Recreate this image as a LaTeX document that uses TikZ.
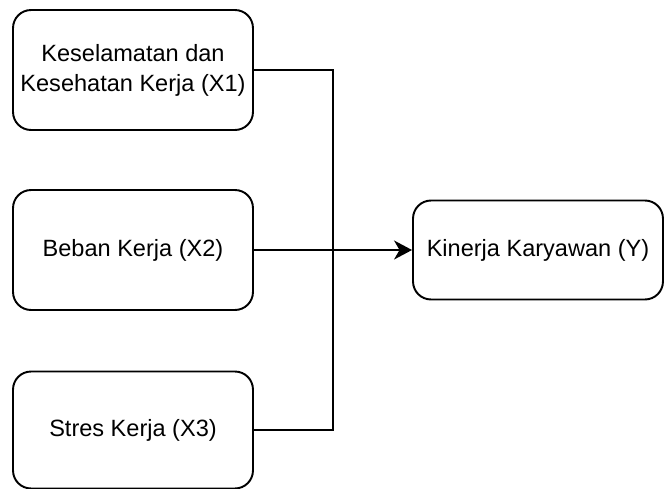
\documentclass[tikz,border=0pt]{standalone}
\usepackage{fontspec}
\setmainfont{Liberation Sans}
\usetikzlibrary{positioning, arrows.meta}

\begin{document}
\begin{tikzpicture}[
    % GLOBAL CFG
    x=0.02cm, y=-0.02cm,
    font=\fontsize{13.4}{17}\selectfont,
    >={Stealth[length=3.6mm, width=3.8mm, inset=1.1mm]},
    % Styles
    varbox/.style={% For the variable boxes
        rectangle,
        rounded corners=3.6mm,
        draw,
        line width=1.1pt,
        align=center,
        inner sep=0pt,
        minimum width=4.8cm,
        minimum height=2.4cm,
        },
    ArrowC1/.style={% Connector lines
        line width=1.1pt,
        }
    ]

    \useasboundingbox (0,0) rectangle (664,488);

    % Draw the variables named x1, x2, x3 and y
    \node [varbox] (x1) at (133,70) {Keselamatan dan\\Kesehatan Kerja (X1)};
    \node [varbox] (x2) at (133,250) {Beban Kerja (X2)};
    \node [varbox, minimum height=2.34cm] (x3) at (133,430) {Stres Kerja (X3)};
    \node [varbox, minimum width=5cm, minimum height=1.98cm] (y) at (538,250) {Kinerja Karyawan (Y)};

    % Junction of the lines
    \coordinate (bend) at (333,250);

% Connecting all.
    \draw [ArrowC1] (x1.east) -| (bend) |- (x3.east);
    \draw [->, ArrowC1] (x2.east) -- (y.west);

\end{tikzpicture}
\end{document}
